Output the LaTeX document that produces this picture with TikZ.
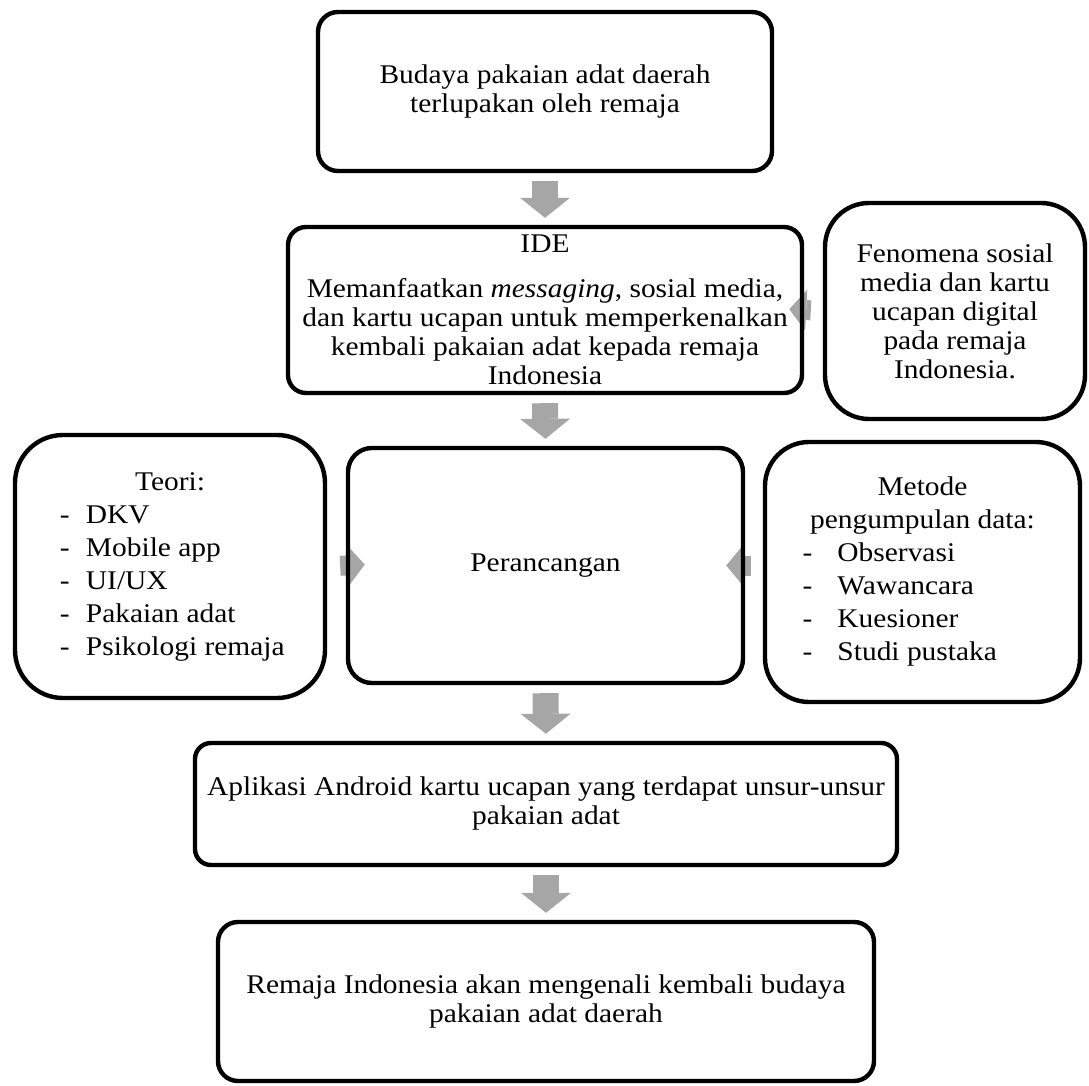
\documentclass[tikz,border=0pt]{standalone}
\usepackage{fontspec}
\setmainfont{Liberation Serif}[FakeStretch=1.09]
\usetikzlibrary{arrows.meta,backgrounds}
\definecolor{abu}{RGB}{166,166,166}
\newcommand{\poin}[3]{\makebox[#1][l]{\makebox[#2][l]{-}#3}}

\begin{document}
\begin{tikzpicture}
		[x=0.5pt,y=-0.5pt,
		kotak/.style={draw,line width=2.2pt,align=center,inner sep=2pt,font=\fontsize{13.5}{14.5}\selectfont},
		daftar/.style={kotak,font=\fontsize{13.5}{16.5}\selectfont},
		panah/.style={draw=abu,line width=13pt,-{Triangle[length=10pt,width=25pt,line width=0pt]},shorten <=4pt,shorten >=3.5pt},
		samping/.style={draw=abu,line width=10pt,-{Triangle[length=8.5pt,width=20.5pt,line width=0pt]}}]
		\useasboundingbox (0,0) rectangle (1089,1086);

		\node[kotak,rounded corners=10pt,minimum width=227pt,minimum height=79.5pt] (budaya) at (545,91.5) {Budaya pakaian adat daerah\\terlupakan oleh remaja};
		\node[kotak,rounded corners=9pt,minimum width=257pt,minimum height=83pt] (ide) at (545,310) {IDE\\[8pt]Memanfaatkan \textit{messaging}, sosial media,\\dan kartu ucapan untuk memperkenalkan\\kembali pakaian adat kepada remaja\\Indonesia};
		\node[kotak,rounded corners=22pt,minimum width=130pt,minimum height=108pt] (fenomena) at (955,311) {Fenomena sosial\\media dan kartu\\ucapan digital\\pada remaja\\Indonesia.};
		\node[daftar,rounded corners=24pt,minimum width=155pt,minimum height=131.5pt] (teori) at (170,566.5) {Teori:\\\poin{110pt}{13pt}{DKV}\\\poin{110pt}{13pt}{Mobile app}\\\poin{110pt}{13pt}{UI/UX}\\\poin{110pt}{13pt}{Pakaian adat}\\\poin{110pt}{13pt}{Psikologi remaja}};
		\node[kotak,rounded corners=12pt,minimum width=197.5pt,minimum height=117.5pt] (peranc) at (545.5,565.5) {Perancangan};
		\node[daftar,rounded corners=22pt,minimum width=157.5pt,minimum height=130pt] (metode) at (922.5,572) {Metode\\pengumpulan data:\\\poin{120pt}{17.5pt}{Observasi}\\\poin{120pt}{17.5pt}{Wawancara}\\\poin{120pt}{17.5pt}{Kuesioner}\\\poin{120pt}{17.5pt}{Studi pustaka}};
		\node[kotak,rounded corners=8pt,minimum width=351pt,minimum height=61pt] (aplikasi) at (546,804) {Aplikasi Android kartu ucapan yang terdapat unsur-unsur\\pakaian adat};
		\node[kotak,rounded corners=10pt,minimum width=328pt,minimum height=79.5pt] (remaja) at (546,1001.5) {Remaja Indonesia akan mengenali kembali budaya\\pakaian adat daerah};

		\begin{scope}[on background layer]
		\draw[panah] (budaya.south) -- (ide.north);
		\draw[panah] (ide.south) -- (peranc.north);
		\draw[panah] (peranc.south) -- (aplikasi.north);
		\draw[panah] (aplikasi.south) -- (remaja.north);
		\draw[samping,shorten <=6pt,shorten >=-7.5pt] (fenomena.west) -- (ide.east);
		\draw[samping,shorten <=6.5pt,shorten >=-9.5pt] (teori.east) -- (peranc.west);
		\draw[samping,shorten <=6pt,shorten >=-9.5pt] (metode.west |- peranc.east) -- (peranc.east);
		\end{scope}

	\end{tikzpicture}
\end{document}
